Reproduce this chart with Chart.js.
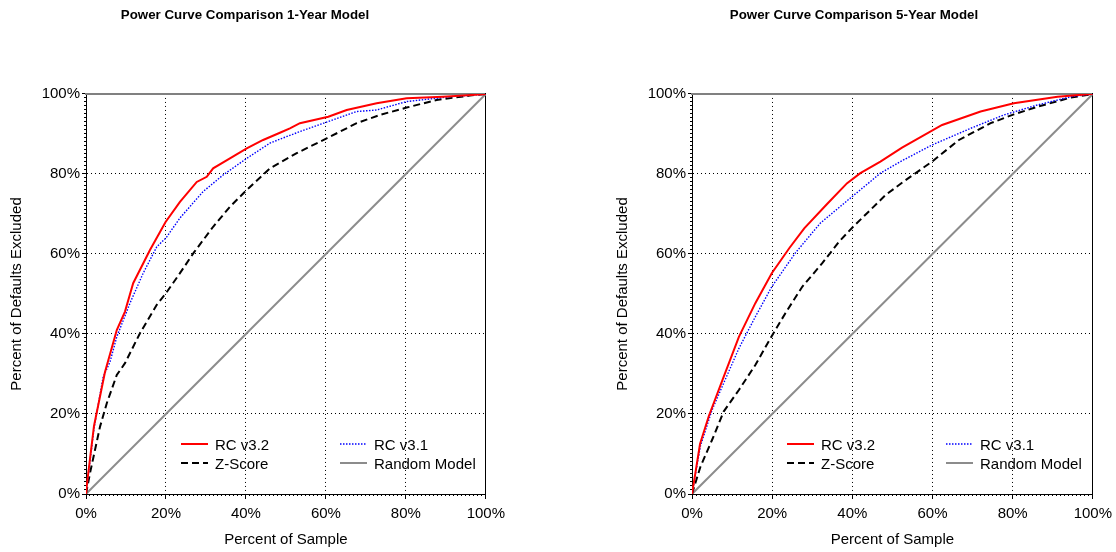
<!DOCTYPE html>
<html>
<head>
<meta charset="utf-8">
<script src="https://cdn.jsdelivr.net/npm/chart.js@4.4.1/dist/chart.umd.min.js"></script>
<style>
html,body{margin:0;padding:0;background:#fff;overflow:hidden}
#wrap{position:relative;width:1116px;height:552px;overflow:hidden}
canvas{position:absolute;top:0}
#c1{left:-25px}
#c2{left:612px}
</style>
</head>
<body>
<div id="wrap">
  <canvas id="c1" width="536" height="552"></canvas>
  <canvas id="c2" width="506" height="552"></canvas>
</div>
<script>
// series names, same for both panels
const seriesNames = ['RC v3.2', 'RC v3.1', 'Z-Score', 'Random Model'];
const titles = ['Power Curve Comparison 1-Year Model', 'Power Curve Comparison 5-Year Model'];

// 1-year model (percent of sample -> percent of defaults excluded)
const yr1V32X = [0, 0.3, 2, 4.75, 7.7, 9.75, 11.8, 16, 19.9, 23.5, 27.7, 30.2, 31.8, 36, 40.2, 44.3, 48.5, 51, 53.5, 60.6, 65.2, 72.7, 80.2, 89.3, 99.3, 100];
const yr1V32Y = [0, 3, 17, 30.5, 41, 45.6, 52.7, 61, 68, 73, 78, 79.3, 81.4, 83.9, 86.4, 88.5, 90.3, 91.4, 92.7, 94.3, 96, 97.7, 98.9, 99.3, 99.9, 100];
const yr1V31X = [0, 2, 4.3, 6, 7.7, 11, 14.3, 17.7, 20, 23.5, 29.3, 34.3, 40.2, 46, 48.5, 53.5, 60.6, 67.7, 72.7, 80.2, 91, 99.3, 100];
const yr1V31Y = [0, 16.4, 29.3, 33, 39.3, 47.7, 55.2, 61.8, 64, 69, 75.6, 79.75, 83.9, 87.7, 88.7, 90.6, 93.1, 95.6, 96, 98.1, 99.3, 99.9, 100];
const yr1ZX = [0, 1, 3.5, 5.2, 7.7, 9.75, 13.5, 17.7, 20, 23.5, 27, 31.8, 36, 40.2, 46, 52.7, 60.2, 67.7, 73.5, 80.2, 87.7, 96, 100];
const yr1ZY = [0, 5.2, 16.8, 22.7, 29.75, 32.7, 40.2, 47.3, 50.2, 55.2, 60.4, 66.8, 71.8, 76, 81.4, 85.2, 88.9, 92.7, 94.75, 96.6, 98.5, 99.6, 100];

// 5-year model
const yr5V32X = [0, 2, 4.2, 7.9, 11.7, 15.8, 19.9, 24.3, 28, 33.7, 38.7, 42, 47, 52.4, 62.4, 72, 80.3, 91.2, 99.5, 100];
const yr5V32Y = [0, 12.5, 19.5, 29.3, 39.3, 47.7, 55.2, 61.5, 66.4, 72.5, 77.7, 80.2, 83.1, 86.6, 92.25, 95.6, 97.7, 99.3, 100, 100];
const yr5V31X = [0, 2.1, 5, 7.9, 11.7, 15.8, 19.9, 25.75, 32, 39.9, 44.5, 47, 52, 59.9, 69.5, 77.8, 86.2, 94.5, 100];
const yr5V31Y = [0, 12, 21, 27.7, 36.4, 44.3, 51.8, 60.2, 67.7, 74.3, 78.1, 80.2, 83.1, 87.25, 91.4, 94.75, 97.25, 99.3, 100];
const yr5ZX = [0, 2.1, 5, 7.9, 11.7, 15.8, 19.8, 23.3, 27.5, 32.5, 36.7, 40.2, 44.5, 48.3, 52.8, 59.9, 66.6, 74.5, 80.3, 86.2, 94.5, 100];
const yr5ZY = [0, 6.8, 13.5, 20.6, 26, 32.25, 39.3, 45.2, 51.8, 57.7, 63.1, 66.8, 71, 74.75, 78.1, 83.1, 88.5, 92.7, 94.9, 96.8, 99.1, 100];

// diagonal
const randomX = [0, 100];
const randomY = [0, 100];

Chart.defaults.font.family = '"Liberation Sans", Arial, Helvetica, sans-serif';
Chart.defaults.color = '#000';

function pts(xs, ys){ return xs.map((x, i) => ({x: x, y: ys[i]})); }

const lineStyles = [
  {color:'#ff0000', width:2, dash:[]},
  {color:'#0000ff', width:1.4, dash:[1.5,1.5]},
  {color:'#000000', width:2, dash:[7,4]},
  {color:'#8c8c8c', width:2, dash:[]}
];
const legendSlots = [[0,0],[1,0],[0,1],[1,1]];

// legend drawn inside the plot, two columns like the original
const insideLegend = {
  id: 'insideLegend',
  afterDatasetsDraw(chart){
    const {ctx, chartArea: a} = chart;
    const colX = [a.left + 95, a.left + 254];
    const rowY = [a.bottom - 50, a.bottom - 31];
    ctx.save();
    ctx.font = '15px "Liberation Sans", Arial, sans-serif';
    ctx.textBaseline = 'middle';
    ctx.fillStyle = '#000';
    chart.data.datasets.forEach(ds => {
      const [c, r] = ds.slot;
      const x = colX[c], y = rowY[r];
      ctx.beginPath();
      ctx.strokeStyle = ds.borderColor;
      ctx.lineWidth = ds.borderWidth;
      ctx.setLineDash(ds.borderDash);
      ctx.moveTo(x, y); ctx.lineTo(x + 27, y);
      ctx.stroke();
      ctx.setLineDash([]);
      ctx.fillText(ds.label, x + 34, y + 1.5);
    });
    ctx.restore();
  }
};

function makeChart(id, title, series, yWidth, yTitlePad, padL, padR){
  const datasets = series.map((s, i) => ({
    label: seriesNames[i],
    data: pts(s[0], s[1]),
    borderColor: lineStyles[i].color,
    borderWidth: lineStyles[i].width,
    borderDash: lineStyles[i].dash,
    pointRadius: 0,
    tension: 0,
    fill: false,
    xAxisID: 'x', yAxisID: 'y',
    slot: legendSlots[i]
  }));
  const major = (axis, pos) => ({
    axis: axis, type:'linear', position: pos, min:0, max:100, weight:1,
    ticks:{stepSize:20, padding: axis === 'x' ? 6 : 2, maxRotation:0, font:{size:15}, callback: v => v + '%'},
    grid:{color:'#000', lineWidth:1, tickLength: axis === 'x' ? 5 : 4, tickColor:'#000'},
    border:{display:true, color:'#000', width:1, dash:[1,3]},
  });
  const minor = (axis, pos) => ({
    axis: axis, type:'linear', position: pos, min:0, max:100, weight:0,
    ticks:{stepSize:1, maxTicksLimit:101, display:false},
    grid:{drawOnChartArea:false, tickLength:2, tickColor:'#000'},
    border:{display:false},
    afterFit: s => { if (axis === 'x') s.height = 0; else s.width = 0; }
  });
  const edge = (axis, pos, color, w) => ({
    axis: axis, type:'linear', position: pos, min:0, max:100, weight:0,
    ticks:{display:false}, grid:{display:false},
    border:{display:true, color: color, width: w},
    afterFit: s => { if (axis === 'x') s.height = 0; else s.width = 0; }
  });
  const x = major('x', 'bottom');
  x.title = {display:true, text:'Percent of Sample', font:{size:15}, padding:{top:0, bottom:3}};
  x.afterFit = s => { s.height = 58; };
  const y = major('y', 'left');
  y.title = {display:true, text:'Percent of Defaults Excluded', font:{size:15}, padding:{top:yTitlePad, bottom:0}};
  y.afterFit = s => { s.width = yWidth; };

  return new Chart(document.getElementById(id), {
    type: 'line',
    data: { datasets: datasets },
    options: {
      responsive:false, animation:false, devicePixelRatio:1,
      layout:{padding:{left:padL, right:padR, top:0, bottom:0}},
      plugins:{
        legend:{display:false},
        tooltip:{enabled:false},
        title:{display:true, text:title, color:'#000', font:{size:13.3, weight:'bold'}, padding:{top:7, bottom:71}}
      },
      scales:{
        x: x,
        y: y,
        xMinor: minor('x', 'bottom'),
        yMinor: minor('y', 'left'),
        xTop: edge('x', 'top', '#808080', 2),
        yRight: edge('y', 'right', '#000', 1)
      }
    },
    plugins:[insideLegend]
  });
}

makeChart('c1', titles[0], [[yr1V32X, yr1V32Y], [yr1V31X, yr1V31Y], [yr1ZX, yr1ZY], [randomX, randomY]], 86, 8, 25, 21);
makeChart('c2', titles[1], [[yr5V32X, yr5V32Y], [yr5V31X, yr5V31Y], [yr5ZX, yr5ZY], [randomX, randomY]], 80, 2, 0, 22);
</script>
</body>
</html>
